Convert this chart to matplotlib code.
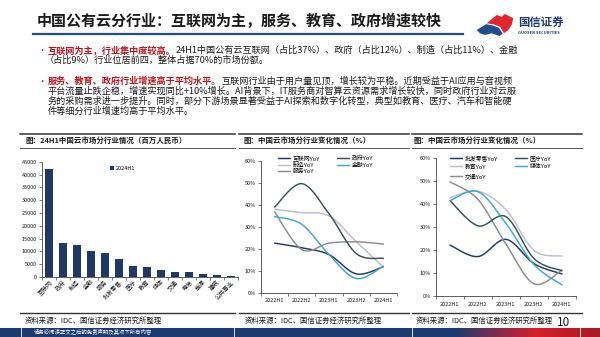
import numpy as np
import matplotlib
matplotlib.use("Agg")
import matplotlib.pyplot as plt
from matplotlib.patches import Polygon
from matplotlib.lines import Line2D

plt.rcParams['font.family'] = ['Noto Sans CJK SC', 'DejaVu Sans']

# ---------------- data ----------------
bar_categories = ["互联网", "政府", "制造", "金融", "服务", "批发零售", "医疗", "教育",
                  "媒体", "交通", "电信", "能源", "建筑", "公共事业"]
bar_values = [42000, 13300, 12600, 10300, 9400, 6900, 4400, 3900, 2900, 2100, 2000, 1100, 900, 500]
bar_series = "2024H1"
bar_yticks = [0, 5000, 10000, 15000, 20000, 25000, 30000, 35000, 40000, 45000]

periods = ["2022H1", "2022H2", "2023H1", "2023H2", "2024H1"]

mid_names = ["互联网YoY", "制造YoY", "服务YoY", "政府YoY", "金融YoY"]
mid_internet = [22.7, 20.6, 17.5, 8.8, 12.0]
mid_manufact = [38.0, 36.5, 35.0, 23.4, 11.8]
mid_service = [36.9, 19.8, 22.7, 23.3, 22.3]
mid_government = [39.0, 49.6, 36.0, 18.0, 15.8]
mid_finance = [34.7, 31.2, 17.5, 6.7, 12.3]

right_names = ["批发零售YoY", "教育YoY", "交通YoY", "医疗YoY", "媒体YoY"]
right_retail = [22.1, 17.1, 24.6, 14.0, 9.5]
right_education = [42.8, 45.6, 37.5, 19.8, 17.3]
right_transport = [49.7, 42.0, 22.5, 5.2, 11.2]
right_medical = [41.5, 30.5, 34.5, 16.2, 10.9]
right_media = [41.5, 45.4, 31.5, 13.6, 4.7]

pct_ticks = [0, 10, 20, 30, 40, 50, 60]

# ---------------- styles ----------------
NAVY = '#1F3864'
SLATE = '#34515C'
LAV = '#B9BDD6'
CYAN = '#3AA7CE'
GRAY = '#8C8C8C'
RED = '#C0141C'
TXT = '#1a1a1a'

W, H = 600, 337
fig = plt.figure(figsize=(6, 3.37), dpi=100)
fig.patch.set_facecolor('white')


def fx(x):
    return x / W


def fy(y):
    return 1 - y / H


def hline(x0, x1, y, color, lw):
    fig.add_artist(Line2D([fx(x0), fx(x1)], [fy(y), fy(y)], color=color, lw=lw,
                          transform=fig.transFigure))


# ---------------- title ----------------
fig.text(fx(37), fy(21.5), "中国公有云分行业：互联网为主，服务、教育、政府增速较快",
         fontsize=10.8, fontweight='bold', color=TXT, va='center', ha='left')
hline(33, 463, 33.5, '#1F4E8C', 1.6)

# logo
red_pts = [(486.7, 23.3), (496.7, 15), (501.7, 16.7), (505, 14), (513.3, 18.3),
           (511.7, 25), (508.3, 30), (504, 33.3), (500, 26.7), (493.3, 24.3)]
blue_pts = [(476.7, 30), (486.2, 24.2), (492.8, 25.4), (499, 28), (502.6, 33.6),
            (499.5, 36), (491.7, 33.3), (485, 35), (480, 33.3)]
fig.add_artist(Polygon([(fx(a), fy(b)) for a, b in red_pts], closed=True,
                       facecolor='#E02730', edgecolor='none', transform=fig.transFigure))
fig.add_artist(Polygon([(fx(a), fy(b)) for a, b in blue_pts], closed=True,
                       facecolor='#1F4E8C', edgecolor='none', transform=fig.transFigure))
fig.text(fx(518), fy(22.5), "国信证券", fontsize=8.2, fontweight='bold', color='#1F3C74',
         va='center', ha='left')
fig.text(fx(518.5), fy(32.8), "GUOSEN SECURITIES", fontsize=2.9, fontweight='bold',
         color='#1F3C74', va='center', ha='left')

# ---------------- bullets ----------------
renderer = fig.canvas.get_renderer()
BFS = 6.6


def seg_line(x, y, segs):
    cx = fx(x)
    for s, col, wt in segs:
        t = fig.text(cx, fy(y), s, fontsize=BFS, color=col, fontweight=wt,
                     va='baseline', ha='left')
        bb = t.get_window_extent(renderer=renderer)
        cx = bb.x1 / W


def bl(y):
    return y + 3.0


fig.text(fx(37), fy(bl(50)), "•", fontsize=BFS, color=RED, va='baseline', ha='left')
seg_line(48, bl(50), [("互联网为主，行业集中度较高。", RED, 'bold'),
                      ("24H1中国公有云互联网（占比37%）、政府（占比12%）、制造（占比11%）、金融", TXT, 'normal')])
seg_line(45, bl(60), [("（占比9%）行业位居前四，整体占据70%的市场份额。", TXT, 'normal')])

fig.text(fx(37), fy(bl(81)), "•", fontsize=BFS, color=RED, va='baseline', ha='left')
seg_line(48, bl(81), [("服务、教育、政府行业增速高于平均水平。", RED, 'bold'),
                      ("互联网行业由于用户量见顶，增长较为平稳。近期受益于AI应用与音视频", TXT, 'normal')])
seg_line(48, bl(91), [("平台流量止跌企稳，增速实现同比+10%增长。AI背景下，IT服务商对智算云资源需求增长较快，同时政府行业对云服", TXT, 'normal')])
seg_line(48, bl(101), [("务的采购需求进一步提升。同时，部分下游场景显著受益于AI探索和数字化转型，典型如教育、医疗、汽车和智能硬", TXT, 'normal')])
seg_line(48, bl(111), [("件等细分行业增速均高于平均水平。", TXT, 'normal')])

# ---------------- panels frame ----------------
panels = [(20, 235, "图：24H1中国云市场分行业情况（百万人民币）", 25, 25),
          (239, 409, "图：中国云市场分行业变化情况（%）", 243, 245),
          (412, 582, "图：中国云市场分行业变化情况（%）", 413, 416)]
for x0, x1, head, hx, sx in panels:
    hline(x0, x1, 134, '#333333', 1.1)
    hline(x0, x1, 147.7, '#555555', 0.7)
    hline(x0, x1, 312.7, '#333333', 1.0)
    fig.text(fx(hx), fy(140.5), head, fontsize=5.4, fontweight='bold', color=TXT,
             va='center', ha='left')
    fig.text(fx(sx), fy(321), "资料来源：IDC、国信证券经济研究所整理", fontsize=5.3,
             color=TXT, va='center', ha='left')

# ---------------- bottom bar ----------------
bar_ax = fig.add_axes([0, 0, 1, fy(327.7)])
bar_ax.set_axis_off()
grad = np.zeros((1, 600, 3))
navy_c = np.array([0x1D, 0x3A, 0x70]) / 255
red_c = np.array([0xD8, 0x1E, 0x2A]) / 255
dred_c = np.array([0xA8, 0x18, 0x22]) / 255
for i in range(600):
    if i < 455:
        c = navy_c
    elif i < 535:
        t = (i - 455) / 80
        c = navy_c * (1 - t) + red_c * t
    else:
        t = (i - 535) / 65
        c = red_c * (1 - t) + dred_c * t
    grad[0, i] = c
bar_ax.imshow(grad, aspect='auto', extent=[0, 600, 0, 1])
for vx in [21, 234, 412, 580]:
    bar_ax.axvline(vx, color='white', lw=0.6)
bar_ax.set_xlim(0, 600)
bar_ax.set_ylim(0, 1)
fig.text(fx(34), fy(332.3), "请务必阅读正文之后的免责声明及其项下所有内容", fontsize=3.9,
         color='white', va='center', ha='left')
fig.text(fx(557), fy(322.5), "10", fontsize=8.5, color=TXT, va='center', ha='left')


# ---------------- helpers ----------------
def smooth(y):
    y = np.asarray(y, dtype=float)
    n = len(y)
    x = np.arange(n, dtype=float)
    xs, ys = [], []
    for i in range(n - 1):
        p0 = np.array([x[i], y[i]])
        p1 = np.array([x[i + 1], y[i + 1]])
        pm = np.array([x[max(i - 1, 0)], y[max(i - 1, 0)]])
        pp = np.array([x[min(i + 2, n - 1)], y[min(i + 2, n - 1)]])
        c1 = p0 + (p1 - pm) / 6
        c2 = p1 - (pp - p0) / 6
        t = np.linspace(0, 1, 30)[:, None]
        pts = ((1 - t) ** 3) * p0 + 3 * ((1 - t) ** 2) * t * c1 + 3 * (1 - t) * t ** 2 * c2 + t ** 3 * p1
        xs.extend(pts[:, 0])
        ys.extend(pts[:, 1])
    return np.array(xs), np.array(ys)


def style_axes(ax):
    for s in ['top', 'right']:
        ax.spines[s].set_visible(False)
    for s in ['left', 'bottom']:
        ax.spines[s].set_color('#444444')
        ax.spines[s].set_linewidth(0.6)
    ax.tick_params(axis='both', which='both', colors='#444444', width=0.5, length=2,
                   direction='out', labelsize=4.0, pad=1.5, labelcolor=TXT)


def ax_rect(l, r, t, b):
    return [fx(l), fy(b), fx(r) - fx(l), fy(t) - fy(b)]


# ---------------- bar chart ----------------
ax1 = fig.add_axes(ax_rect(42, 238, 161.7, 277))
xpos = np.arange(len(bar_categories))
ax1.bar(xpos, bar_values, width=0.6, color=NAVY, label=bar_series, zorder=3)
ax1.set_xlim(-0.5, len(bar_categories) - 0.5)
ax1.set_ylim(0, 45000)
ax1.set_yticks(bar_yticks)
ax1.set_yticklabels([str(v) for v in bar_yticks])
ax1.set_xticks(np.arange(len(bar_categories) + 1) - 0.5, minor=False)
ax1.set_xticklabels([])
ax1.set_xticks(xpos, minor=True)
style_axes(ax1)
ax1.set_xticklabels(bar_categories, minor=True, rotation=45, ha='right',
                    rotation_mode='anchor', fontsize=4.3)
ax1.tick_params(axis='x', which='minor', length=0, pad=1.5)
ax1.patch.set_alpha(0)
ax1.legend(loc='upper left', bbox_to_anchor=((106 - 42) / 196, 1.0), frameon=False,
           fontsize=4.0, handlelength=0.7, handleheight=0.7, handletextpad=0.4,
           borderaxespad=0.3)


# ---------------- line charts ----------------
def line_chart(rect, series, names, colors, leg_anchor, xt_pad, lspace):
    ax = fig.add_axes(rect)
    handles = []
    for vals, nm, col in zip(series, names, colors):
        xs, ys = smooth(vals)
        h, = ax.plot(xs, ys, color=col, lw=1.05, label=nm, solid_capstyle='round')
        handles.append(h)
    ax.set_xlim(-0.5, len(periods) - 0.5)
    ax.set_ylim(0, 60)
    ax.set_yticks(pct_ticks)
    ax.set_yticklabels([f"{v}%" for v in pct_ticks])
    ax.set_xticks(np.arange(len(periods) + 1) - 0.5)
    ax.set_xticklabels([])
    ax.set_xticks(np.arange(len(periods)), minor=True)
    ax.set_xticklabels(periods, minor=True)
    style_axes(ax)
    ax.tick_params(axis='x', which='minor', length=0, pad=xt_pad)
    ax.patch.set_alpha(0)
    ax.legend(handles=handles, ncol=2, loc='upper left', bbox_to_anchor=leg_anchor,
              frameon=False, fontsize=4.2, handlelength=2.1, handletextpad=0.5,
              columnspacing=2.8, labelspacing=lspace, borderaxespad=0, borderpad=0)
    return ax


line_chart(ax_rect(261, 397, 160.7, 293.3),
           [mid_internet, mid_manufact, mid_service, mid_government, mid_finance],
           mid_names, [NAVY, LAV, GRAY, SLATE, CYAN],
           ((278 - 261) / 136, 1 - (155.0 - 160.7) / 132.6), 3.5, 0.2)

line_chart(ax_rect(436, 576, 158.3, 295.7),
           [right_retail, right_education, right_transport, right_medical, right_media],
           right_names, [NAVY, LAV, GRAY, SLATE, CYAN],
           ((450 - 436) / 140, 1 - (155.0 - 158.3) / 137.4), 4.5, 0.55)

fig.savefig("out.png", dpi=100, facecolor='white')
